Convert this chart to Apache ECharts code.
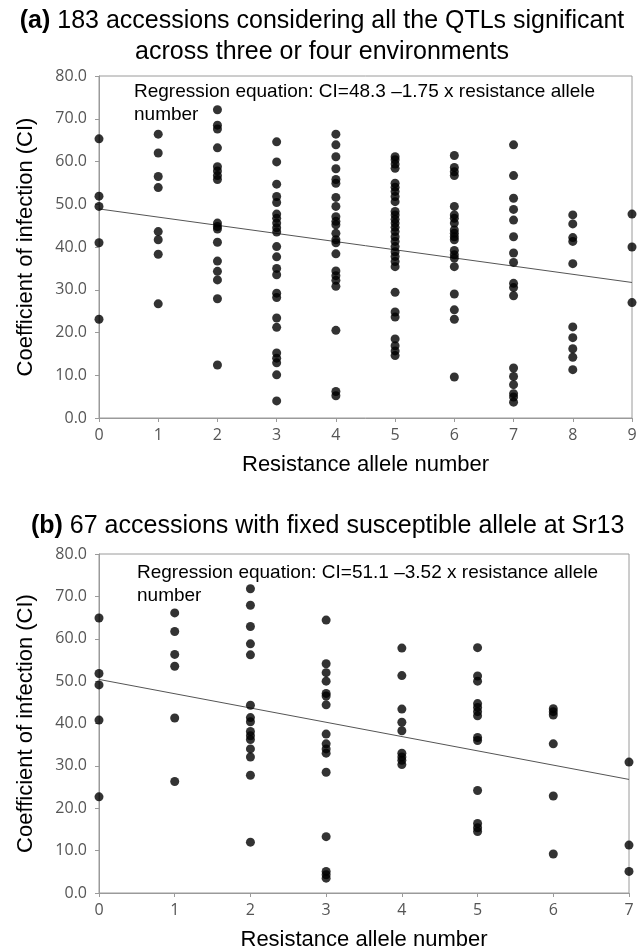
<!DOCTYPE html>
<html>
<head>
<meta charset="utf-8">
<script src="https://cdn.jsdelivr.net/npm/echarts@6/dist/echarts.min.js"></script>
<style>
html,body{margin:0;padding:0;background:#fff;}
#chart{width:644px;height:952px;}
</style>
</head>
<body>
<div id="chart"></div>
<script>
// Panel (a): CI values grouped by resistance allele number (index = allele number 0..9)
const panelA_CI = [
  [65.3, 51.9, 49.5, 41.0, 23.1],
  [66.4, 62.0, 56.5, 53.9, 43.6, 41.7, 38.3, 26.7],
  [72.1, 68.5, 67.6, 63.2, 58.8, 57.8, 56.7, 55.8, 45.6, 44.8, 44.2, 41.1, 36.7, 34.3, 32.3, 27.9, 12.4],
  [64.6, 59.9, 54.7, 51.8, 50.4, 47.7, 46.7, 45.6, 44.5, 43.5, 40.1, 37.7, 35.0, 33.5, 29.2, 28.2, 23.4, 21.2, 15.2, 14.0, 12.9, 10.1, 4.0],
  [66.4, 63.9, 61.1, 58.3, 55.8, 54.9, 51.6, 49.5, 47.1, 46.0, 45.2, 43.2, 41.7, 41.0, 38.4, 34.4, 33.3, 32.2, 30.8, 20.5, 6.2, 5.2],
  [61.1, 60.4, 59.4, 58.4, 54.9, 54.0, 53.0, 51.8, 50.6, 48.3, 47.5, 46.5, 45.6, 44.6, 43.6, 42.4, 41.3, 40.1, 38.9, 37.8, 36.6, 35.4, 29.4, 24.8, 23.6, 18.5, 16.9, 15.7, 14.6],
  [61.4, 58.6, 57.6, 56.7, 49.5, 47.5, 46.7, 45.6, 44.0, 43.2, 42.4, 41.7, 39.2, 38.2, 37.4, 35.4, 29.0, 25.3, 23.1, 9.6],
  [63.9, 56.7, 51.4, 48.8, 46.3, 42.4, 38.6, 36.4, 31.5, 30.5, 28.6, 11.7, 9.7, 7.8, 5.7, 4.9, 3.7],
  [47.5, 45.4, 42.2, 41.3, 36.1, 21.3, 18.8, 16.2, 14.2, 11.3],
  [47.7, 40.0, 27.0]
];
// Panel (a) regression line as drawn: [x, CI] at both ends
const panelA_fit = [[0, 48.9], [9, 31.7]];

// Panel (b): CI values grouped by resistance allele number (0..7)
const panelB_CI = [
  [64.9, 51.8, 49.1, 40.8, 22.7],
  [66.1, 61.7, 56.3, 53.5, 41.3, 26.3],
  [71.8, 67.9, 62.9, 58.8, 56.2, 44.3, 41.4, 40.4, 38.1, 37.1, 36.2, 34.0, 32.1, 27.8, 12.0],
  [64.4, 54.1, 52.0, 50.0, 47.1, 46.5, 44.4, 37.5, 35.2, 34.0, 33.0, 28.5, 13.3, 5.1, 4.3, 3.5],
  [57.8, 51.3, 43.4, 40.3, 38.3, 33.0, 32.1, 31.3, 30.3],
  [57.9, 51.2, 50.0, 44.7, 43.8, 42.8, 41.8, 36.7, 36.0, 24.2, 16.4, 15.4, 14.5],
  [43.5, 42.8, 42.0, 35.2, 22.9, 9.2],
  [30.9, 11.3, 5.1]
];
const panelB_fit = [[0, 50.4], [7, 26.8]];

const yTicks = [0, 10, 20, 30, 40, 50, 60, 70, 80];

const titleA1 = '(a)';
const titleA1rest = ' 183 accessions considering all the QTLs significant';
const titleA2 = 'across three or four environments';
const titleB = '(b)';
const titleBrest = ' 67 accessions with fixed susceptible allele at Sr13';
const eqA = 'Regression equation: CI=48.3 \u20131.75 x resistance allele\nnumber';
const eqB = 'Regression equation: CI=51.1 \u20133.52 x resistance allele\nnumber';
const xName = 'Resistance allele number';
const yName = 'Coefficient of infection (CI)';

function toPoints(cols) {
  const out = [];
  cols.forEach((vals, x) => vals.forEach(v => out.push([x, v])));
  return out;
}

const SANS = '"Liberation Sans", Arial, sans-serif';
const NUM = '"Open Sans", sans-serif';
const AX = '#9a9a9a';

function xAxisCfg(gridIndex, max) {
  return {
    gridIndex, type: 'value', min: 0, max, interval: 1,
    name: xName, nameLocation: 'middle', nameGap: 36,
    nameTextStyle: { fontFamily: SANS, fontSize: 22, color: '#000' },
    axisLine: { show: true, lineStyle: { color: AX, width: 1 } },
    axisTick: { show: true, length: 4, lineStyle: { color: AX } },
    axisLabel: { fontFamily: NUM, fontSize: 16, color: '#555', margin: 9 },
    splitLine: { show: false }
  };
}
function yAxisCfg(gridIndex) {
  return {
    gridIndex, type: 'value', min: 0, max: 80, interval: 10,
    name: yName, nameLocation: 'middle', nameGap: 62,
    nameTextStyle: { fontFamily: SANS, fontSize: 22, color: '#000' },
    axisLine: { show: true, lineStyle: { color: AX, width: 1 } },
    axisTick: { show: true, length: 4, lineStyle: { color: AX } },
    axisLabel: { fontFamily: NUM, fontSize: 16, color: '#555', margin: 12,
      formatter: v => yTicks.includes(v) ? v.toFixed(1) : '' },
    splitLine: { show: false }
  };
}

const chart = echarts.init(document.getElementById('chart'), null, { renderer: 'canvas' });
chart.setOption({
  animation: false,
  backgroundColor: '#fff',
  title: [
    { text: '{b|' + titleA1 + '}' + titleA1rest, left: 'center', top: 9, padding: 0,
      textStyle: { fontFamily: SANS, fontSize: 25, fontWeight: 'normal', color: '#000',
        rich: { b: { fontFamily: SANS, fontSize: 25, fontWeight: 'bold', color: '#000' } } } },
    { text: titleA2, left: 'center', top: 40, padding: 0,
      textStyle: { fontFamily: SANS, fontSize: 25, fontWeight: 'normal', color: '#000' } },
    { text: '{b|' + titleB + '}' + titleBrest, left: 31, top: 514, padding: 0,
      textStyle: { fontFamily: SANS, fontSize: 25, fontWeight: 'normal', color: '#000',
        rich: { b: { fontFamily: SANS, fontSize: 25, fontWeight: 'bold', color: '#000' } } } },
    { text: eqA, left: 134, top: 80, padding: 0,
      textStyle: { fontFamily: SANS, fontSize: 19, lineHeight: 23, fontWeight: 'normal', color: '#000' } },
    { text: eqB, left: 137, top: 561, padding: 0,
      textStyle: { fontFamily: SANS, fontSize: 19, lineHeight: 23, fontWeight: 'normal', color: '#000' } }
  ],
  grid: [
    { left: 99, right: 12, top: 76, bottom: 534, show: true, borderColor: AX, borderWidth: 1 },
    { left: 99, right: 15, top: 554, bottom: 58, show: true, borderColor: AX, borderWidth: 1 }
  ],
  xAxis: [xAxisCfg(0, 9), xAxisCfg(1, 7)],
  yAxis: [yAxisCfg(0), yAxisCfg(1)],
  series: [
    { type: 'line', xAxisIndex: 0, yAxisIndex: 0, data: panelA_fit, symbol: 'none',
      lineStyle: { color: '#555', width: 1 }, z: 1 },
    { type: 'scatter', xAxisIndex: 0, yAxisIndex: 0, data: toPoints(panelA_CI),
      symbol: 'circle', symbolSize: 9, itemStyle: { color: '#000' }, z: 2 },
    { type: 'line', xAxisIndex: 1, yAxisIndex: 1, data: panelB_fit, symbol: 'none',
      lineStyle: { color: '#555', width: 1 }, z: 1 },
    { type: 'scatter', xAxisIndex: 1, yAxisIndex: 1, data: toPoints(panelB_CI),
      symbol: 'circle', symbolSize: 9, itemStyle: { color: '#000' }, z: 2 }
  ]
});
</script>
</body>
</html>
